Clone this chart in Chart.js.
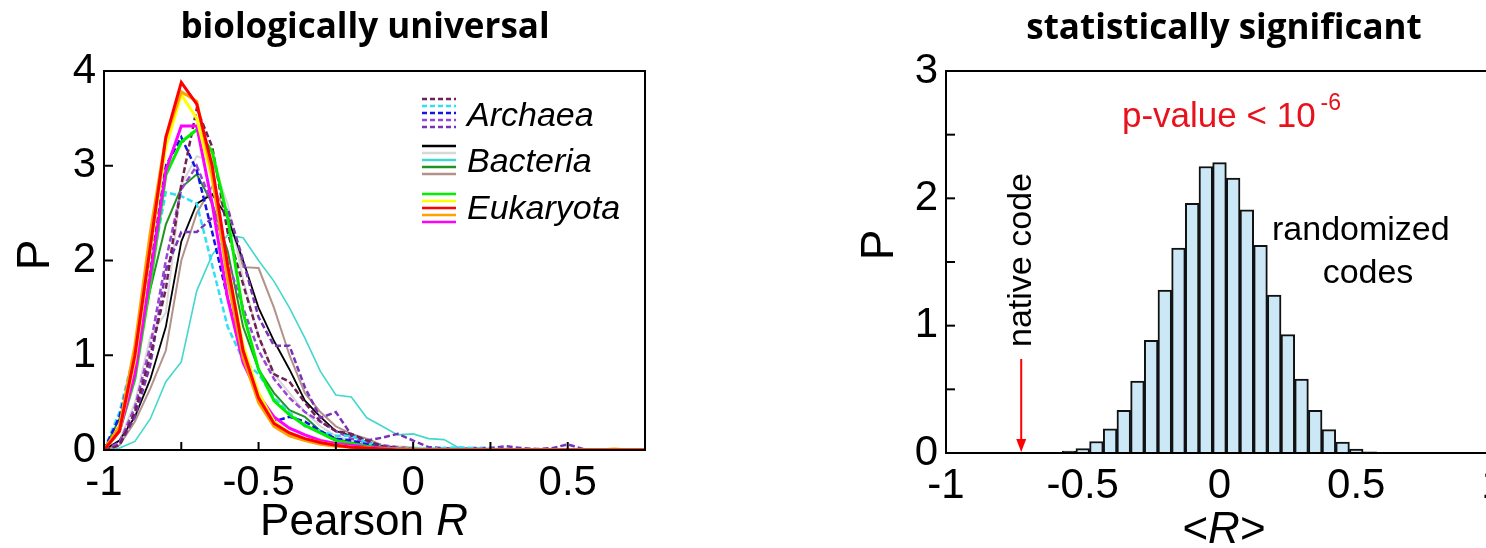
<!DOCTYPE html>
<html>
<head>
<meta charset="utf-8">
<script src="https://cdn.jsdelivr.net/npm/chart.js@4"></script>
<style>
  html, body { margin: 0; padding: 0; background: #fff; overflow: hidden; width: 1486px; height: 548px; }
  canvas { position: absolute; top: 0; }
  #leftChart { left: 0; }
  #rightChart { left: 840px; }
</style>
</head>
<body>
<canvas id="leftChart" width="700" height="548"></canvas>
<canvas id="rightChart" width="700" height="548"></canvas>
<script>
// ---- left panel: distributions of Pearson R ----
const pearsonR = [-1, -0.95, -0.9, -0.85, -0.8, -0.75, -0.7, -0.65, -0.6, -0.55,
  -0.5, -0.45, -0.4, -0.35, -0.3, -0.25, -0.2, -0.15, -0.1, -0.05,
  0, 0.05, 0.1, 0.15, 0.2, 0.25, 0.3, 0.35, 0.4, 0.45,
  0.5, 0.55, 0.6, 0.65, 0.7, 0.75];

const archMaroon = [0, 0.05, 0.4, 1.0, 1.7, 2.8, 3.6, 3.2, 2.3, 1.75, 1.2, 0.8, 0.72, 0.5, 0.3, 0.2, 0.17, 0.1, 0.04, 0.02, 0.01, 0, 0, 0, 0, 0, 0, 0, 0, 0, 0, 0, 0, 0, 0, 0];
const archCyan = [0, 0.4, 1.05, 1.85, 2.72, 2.68, 2.6, 1.95, 1.3, 0.95, 0.8, 0.55, 0.4, 0.25, 0.2, 0.15, 0.15, 0.08, 0.03, 0.02, 0.02, 0.01, 0.02, 0.03, 0.02, 0.01, 0.01, 0, 0, 0, 0, 0, 0, 0, 0, 0];
const archBlue = [0, 0.35, 1.0, 2.0, 3.0, 3.3, 2.95, 2.3, 1.6, 1.0, 0.6, 0.3, 0.35, 0.3, 0.2, 0.12, 0.1, 0.06, 0.03, 0.02, 0.01, 0, 0, 0, 0, 0, 0, 0, 0, 0, 0, 0, 0, 0, 0, 0];
const archViolet = [0, 0.08, 0.45, 1.1, 2.0, 2.75, 3.0, 2.6, 2.0, 1.5, 1.05, 0.75, 0.55, 0.4, 0.3, 0.2, 0.12, 0.08, 0.05, 0.03, 0.02, 0, 0, 0, 0, 0, 0, 0, 0, 0, 0, 0, 0, 0, 0, 0];
const archPurple = [0, 0.05, 0.35, 0.9, 1.9, 2.3, 2.3, 2.45, 2.55, 2.0, 1.4, 1.1, 1.1, 0.66, 0.34, 0.4, 0.16, 0.1, 0.13, 0.17, 0.1, 0.03, 0.02, 0.01, 0.02, 0.02, 0.04, 0.02, 0.01, 0.02, 0.06, 0.01, 0, 0, 0, 0];

const bactBlack = [0, 0.1, 0.35, 0.75, 1.3, 2.2, 2.6, 2.7, 2.45, 2.0, 1.5, 1.15, 0.85, 0.52, 0.35, 0.2, 0.15, 0.08, 0.04, 0.02, 0.01, 0, 0, 0, 0, 0, 0, 0, 0, 0, 0, 0, 0, 0, 0, 0];
const bactGray = [0, 0.1, 0.5, 1.2, 1.45, 2.8, 3.1, 3.05, 2.6, 1.8, 1.2, 0.8, 0.6, 0.4, 0.25, 0.15, 0.1, 0.08, 0.05, 0.04, 0.03, 0.02, 0.01, 0, 0, 0, 0, 0, 0, 0, 0, 0, 0, 0, 0, 0];
const bactTurquoise = [0, 0.02, 0.09, 0.33, 0.72, 0.93, 1.68, 2.06, 2.27, 2.24, 2.0, 1.78, 1.5, 1.18, 0.83, 0.58, 0.56, 0.34, 0.25, 0.16, 0.17, 0.12, 0.11, 0.02, 0.01, 0.01, 0, 0, 0, 0, 0, 0, 0, 0, 0, 0];
const bactGreen = [0, 0.33, 0.9, 1.7, 2.38, 2.77, 2.91, 2.6, 2.1, 1.3, 0.85, 0.6, 0.42, 0.35, 0.2, 0.12, 0.08, 0.05, 0.02, 0.01, 0, 0, 0, 0, 0, 0, 0, 0, 0, 0, 0, 0, 0, 0, 0, 0];
const bactBrown = [0, 0.05, 0.3, 0.65, 1.05, 2.0, 2.5, 2.78, 2.5, 1.93, 1.92, 1.5, 1.0, 0.6, 0.4, 0.25, 0.17, 0.12, 0.05, 0.03, 0.01, 0, 0, 0, 0, 0, 0, 0, 0, 0, 0, 0, 0, 0, 0, 0];

const eukLime = [0, 0.2, 0.75, 1.75, 2.9, 3.25, 3.38, 3.15, 2.45, 1.45, 0.85, 0.52, 0.37, 0.26, 0.18, 0.1, 0.07, 0.04, 0.02, 0.01, 0, 0, 0, 0, 0, 0, 0, 0, 0, 0, 0, 0, 0, 0, 0, 0];
const eukYellow = [0, 0.2, 0.95, 2.1, 3.2, 3.75, 3.5, 2.85, 1.95, 1.1, 0.6, 0.3, 0.18, 0.12, 0.08, 0.05, 0.03, 0.02, 0.01, 0, 0, 0, 0, 0, 0, 0, 0, 0, 0, 0, 0, 0, 0, 0, 0, 0];
const eukRed = [0, 0.2, 1.0, 2.15, 3.3, 3.88, 3.65, 3.0, 1.95, 1.05, 0.55, 0.28, 0.18, 0.12, 0.08, 0.05, 0.03, 0.02, 0.01, 0, 0, 0, 0, 0, 0, 0, 0, 0, 0, 0, 0, 0, 0, 0, 0, 0];
const eukOrange = [0, 0.25, 1.1, 2.3, 3.3, 3.78, 3.68, 2.9, 1.8, 0.98, 0.5, 0.25, 0.15, 0.1, 0.06, 0.04, 0.03, 0.02, 0.01, 0.01, 0.01, 0, 0, 0, 0, 0, 0, 0, 0, 0, 0, 0, 0, 0.01, 0, 0];
const eukMagenta = [0, 0.2, 0.8, 1.85, 2.95, 3.42, 3.42, 2.6, 1.6, 0.92, 0.58, 0.35, 0.23, 0.16, 0.1, 0.07, 0.05, 0.03, 0.02, 0.01, 0, 0, 0, 0, 0, 0, 0, 0, 0, 0, 0, 0, 0, 0, 0, 0];

const leftXTicks = [-1, -0.75, -0.5, -0.25, 0, 0.25, 0.5, 0.75];
const leftYTicks = [0, 1, 2, 3, 4];

// ---- right panel: histogram of <R> for randomized codes ----
const binCenters = [-0.65, -0.6, -0.55, -0.5, -0.45, -0.4, -0.35, -0.3, -0.25, -0.2,
  -0.15, -0.1, -0.05, 0, 0.05, 0.1, 0.15, 0.2, 0.25, 0.3,
  0.35, 0.4, 0.45, 0.5, 0.55, 0.6];
const randomizedDensity = [0.003, 0.006, 0.015, 0.035, 0.09, 0.19, 0.335, 0.565, 0.885, 1.28,
  1.61, 1.96, 2.25, 2.28, 2.16, 1.91, 1.63, 1.24, 0.93, 0.58,
  0.335, 0.183, 0.086, 0.03, 0.01, 0.004];
const nativeCodeR = -0.725;
const rightYTicks = [0, 0.5, 1, 1.5, 2, 2.5, 3];

const tickFont = { family: 'Liberation Sans, Arial, sans-serif', size: 42 };
const ARIAL = 'Liberation Sans, Arial, sans-serif';
const TITLE_FONT = 'bold 35px "Open Sans", sans-serif';

function line(ctx, x1, y1, x2, y2) {
  ctx.beginPath(); ctx.moveTo(x1, y1); ctx.lineTo(x2, y2); ctx.stroke();
}

function drawFrame(chart, xTicks, yTicks, openRight) {
  const { ctx, chartArea: a, scales } = chart;
  ctx.save();
  ctx.strokeStyle = '#000';
  ctx.lineWidth = 2;
  ctx.beginPath();
  if (openRight) {
    ctx.moveTo(a.right + 10, a.top);
    ctx.lineTo(a.left, a.top);
    ctx.lineTo(a.left, a.bottom);
    ctx.lineTo(a.right + 10, a.bottom);
  } else {
    ctx.rect(a.left, a.top, a.right - a.left, a.bottom - a.top);
  }
  ctx.stroke();
  xTicks.forEach(v => {
    const px = scales.x.getPixelForValue(v);
    line(ctx, px, a.bottom, px, a.bottom - 8);
  });
  yTicks.forEach(v => {
    const py = scales.y.getPixelForValue(v);
    line(ctx, a.left, py, a.left + 9, py);
  });
  ctx.restore();
}

function mixedText(ctx, parts, cx, y, size) {
  // parts: [text, italic]
  let total = 0;
  parts.forEach(p => {
    ctx.font = (p[1] ? 'italic ' : '') + size + 'px ' + ARIAL;
    total += ctx.measureText(p[0]).width;
  });
  let x = cx - total / 2;
  ctx.textAlign = 'left';
  parts.forEach(p => {
    ctx.font = (p[1] ? 'italic ' : '') + size + 'px ' + ARIAL;
    ctx.fillText(p[0], x, y);
    x += ctx.measureText(p[0]).width;
  });
}

function rotatedText(ctx, text, x, y, font, baseline) {
  ctx.save();
  ctx.translate(x, y);
  ctx.rotate(-Math.PI / 2);
  ctx.font = font;
  ctx.textAlign = 'center';
  ctx.textBaseline = baseline;
  ctx.fillText(text, 0, 0);
  ctx.restore();
}

const legendGroups = [
  { label: 'Archaea', dashed: true, colors: ['#6E2152', '#2EE0F5', '#1414E6', '#9B45D8', '#7A32B8'], y0: 99, textY: 126 },
  { label: 'Bacteria', dashed: false, colors: ['#000000', '#D8D8D8', '#44D8CC', '#229322', '#B3928A'], y0: 146, textY: 172 },
  { label: 'Eukaryota', dashed: false, colors: ['#00F000', '#FFFF00', '#FF0000', '#FFA200', '#FF00FF'], y0: 194, textY: 219 }
];

const leftDecor = {
  id: 'leftDecor',
  afterDraw(chart) {
    drawFrame(chart, leftXTicks, leftYTicks, false);
    const ctx = chart.ctx;
    ctx.save();
    ctx.fillStyle = '#000';
    ctx.font = TITLE_FONT;
    ctx.textAlign = 'center';
    ctx.textBaseline = 'alphabetic';
    ctx.fillText('biologically universal', 365, 38);

    rotatedText(ctx, 'P', 36, 255, '46px ' + ARIAL, 'middle');
    ctx.textBaseline = 'alphabetic';
    mixedText(ctx, [['Pearson ', false], ['R', true]], 364, 535, 44);

    // legend
    legendGroups.forEach(g => {
      g.colors.forEach((c, i) => {
        ctx.strokeStyle = c;
        ctx.lineWidth = 2.5;
        ctx.setLineDash(g.dashed ? [5, 3] : []);
        line(ctx, 422, g.y0 + i * 7, 456, g.y0 + i * 7);
      });
      ctx.setLineDash([]);
      ctx.fillStyle = '#000';
      ctx.font = 'italic 34px ' + ARIAL;
      ctx.textAlign = 'left';
      ctx.fillText(g.label, 467, g.textY);
    });
    ctx.restore();
  }
};

function series(values, color, width, dashed) {
  return {
    data: pearsonR.map((x, i) => ({ x: x, y: values[i] })),
    borderColor: color,
    borderWidth: width,
    borderDash: dashed ? [6, 3] : [],
    fill: false,
    pointRadius: 0,
    tension: 0
  };
}

// first dataset is painted last (on top)
const leftDatasets = [
  series(eukRed, '#FF0000', 3, false),
  series(eukOrange, '#FFA200', 3, false),
  series(eukYellow, '#FFFF00', 3, false),
  series(eukMagenta, '#FF00FF', 3, false),
  series(eukLime, '#00F000', 3, false),
  series(archMaroon, '#6E2152', 2.5, true),
  series(archBlue, '#1414E6', 2.5, true),
  series(archCyan, '#2EE0F5', 2.5, true),
  series(archViolet, '#9B45D8', 2.5, true),
  series(archPurple, '#7A32B8', 2.5, true),
  series(bactGreen, '#229322', 2, false),
  series(bactBlack, '#000000', 1.8, false),
  series(bactGray, '#D8D8D8', 2, false),
  series(bactBrown, '#B3928A', 2, false),
  series(bactTurquoise, '#44D8CC', 1.6, false)
];

new Chart(document.getElementById('leftChart'), {
  type: 'line',
  data: { datasets: leftDatasets },
  options: {
    responsive: false,
    animation: false,
    layout: { padding: { left: 0, right: 55, top: 71, bottom: 0 } },
    plugins: { legend: { display: false }, tooltip: { enabled: false } },
    scales: {
      x: {
        type: 'linear', min: -1, max: 0.75,
        afterFit: s => { s.height = 98; },
        grid: { display: false, drawTicks: false },
        border: { display: false },
        ticks: {
          stepSize: 0.25, autoSkip: false, maxRotation: 0, padding: 8,
          font: tickFont, color: '#000',
          callback: v => (Math.abs(v * 2 - Math.round(v * 2)) < 1e-9 ? String(v) : '')
        }
      },
      y: {
        type: 'linear', min: 0, max: 4,
        afterFit: s => { s.width = 104; },
        grid: { display: false, drawTicks: false },
        border: { display: false },
        ticks: { stepSize: 1, padding: 8, font: tickFont, color: '#000' }
      }
    }
  },
  plugins: [leftDecor]
});

const rightDecor = {
  id: 'rightDecor',
  afterDraw(chart) {
    drawFrame(chart, [], rightYTicks, true);
    const { ctx, scales, chartArea: a } = chart;
    ctx.save();
    ctx.fillStyle = '#000';
    ctx.font = TITLE_FONT;
    ctx.textAlign = 'center';
    ctx.textBaseline = 'alphabetic';
    ctx.fillText('statistically significant', 384, 39);

    rotatedText(ctx, 'P', 40, 245, '46px ' + ARIAL, 'middle');
    ctx.textBaseline = 'alphabetic';
    mixedText(ctx, [['<', false], ['R', true], ['>', false]], 384, 543, 44);

    // p-value
    ctx.fillStyle = '#E8121C';
    ctx.font = '35px ' + ARIAL;
    ctx.textAlign = 'left';
    const main = 'p-value < 10';
    ctx.fillText(main, 282, 127);
    const w = ctx.measureText(main).width;
    ctx.font = '23px ' + ARIAL;
    ctx.fillText('-6', 282 + w + 5, 110);

    // randomized codes
    ctx.fillStyle = '#000';
    ctx.font = '34px ' + ARIAL;
    ctx.fillText('randomized', 432, 240);
    ctx.textAlign = 'center';
    ctx.fillText('codes', 528, 283);

    // native code label + arrow
    rotatedText(ctx, 'native code', 191, 260, '34px ' + ARIAL, 'alphabetic');
    const ax = scales.x.getPixelForValue(nativeCodeR);
    ctx.strokeStyle = '#FF0000';
    ctx.fillStyle = '#FF0000';
    ctx.lineWidth = 2;
    line(ctx, ax, 359, ax, a.bottom - 10);
    ctx.beginPath();
    ctx.moveTo(ax - 5, a.bottom - 14);
    ctx.lineTo(ax + 5, a.bottom - 14);
    ctx.lineTo(ax, a.bottom - 1);
    ctx.closePath();
    ctx.fill();
    ctx.restore();
  }
};

new Chart(document.getElementById('rightChart'), {
  type: 'bar',
  data: {
    datasets: [{
      data: binCenters.map((x, i) => ({ x: x, y: randomizedDensity[i] })),
      backgroundColor: '#CCE8F6',
      borderColor: '#111',
      borderWidth: 2,
      barPercentage: 1,
      categoryPercentage: 1
    }]
  },
  options: {
    responsive: false,
    animation: false,
    layout: { padding: { left: 0, right: 47, top: 71, bottom: 0 } },
    plugins: { legend: { display: false }, tooltip: { enabled: false } },
    scales: {
      x: {
        type: 'linear', min: -1, max: 1, offset: false,
        afterFit: s => { s.height = 95; },
        grid: { display: false, drawTicks: false },
        border: { display: false },
        ticks: {
          stepSize: 0.5, autoSkip: false, maxRotation: 0, padding: 8, font: tickFont, color: '#000',
          callback: v => String(v)
        }
      },
      y: {
        type: 'linear', min: 0, max: 3,
        afterFit: s => { s.width = 106; },
        grid: { display: false, drawTicks: false },
        border: { display: false },
        ticks: {
          stepSize: 0.5, padding: 8, font: tickFont, color: '#000',
          callback: v => (Number.isInteger(v) ? String(v) : '')
        }
      }
    }
  },
  plugins: [rightDecor]
});
</script>
</body>
</html>
